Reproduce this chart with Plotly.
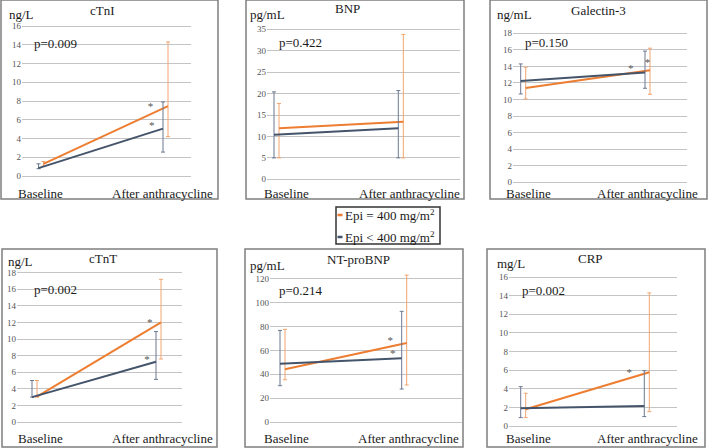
import plotly.graph_objects as go

# ---------------- data ----------------
panels = ["cTnI", "BNP", "Galectin-3", "cTnT", "NT-proBNP", "CRP"]
units = ["ng/L", "pg/mL", "ng/mL", "ng/L", "pg/mL", "mg/L"]
p_values = ["p=0.009", "p=0.422", "p=0.150", "p=0.002", "p=0.214", "p=0.002"]
timepoints = ["Baseline", "After anthracycline"]
series_names = ["Epi = 400 mg/m<sup>2</sup>", "Epi < 400 mg/m<sup>2</sup>"]

# Epi = 400 mg/m2 (orange): [Baseline, After anthracycline]
high_mean = [[1.3, 7.45], [11.9, 13.4], [11.4, 13.55], [3.05, 12.0], [44.1, 66.1], [1.82, 5.79]]
high_upper = [[1.55, 14.3], [17.7, 33.8], [13.9, 16.2], [5.0, 17.2], [77.6, 123.0], [3.54, 14.3]]
high_lower = [[1.05, 4.2], [5.0, 5.0], [10.07, 10.63], [3.0, 7.6], [35.4, 31.0], [0.93, 1.57]]
# Epi < 400 mg/m2 (blue)
low_mean = [[0.84, 5.05], [10.4, 11.9], [12.24, 13.25], [3.0, 7.27], [48.8, 53.3], [1.93, 2.18]]
low_upper = [[1.3, 7.9], [20.4, 20.7], [14.3, 15.85], [5.0, 10.9], [76.7, 92.7], [4.25, 5.96]]
low_lower = [[0.78, 2.55], [5.0, 5.0], [10.67, 11.36], [3.0, 5.14], [30.4, 27.6], [0.93, 1.04]]

y_max = [16, 35, 18, 18, 120, 16]
y_step = [2, 5, 2, 2, 20, 2]

# significance marks "*" (x in timepoint units, y in panel units)
sig_x = [[0.88, 0.89], [], [0.865, 1.0], [0.93, 0.907], [0.886, 0.905], [0.858]]
sig_y = [[7.29, 5.26], [], [13.65, 14.44], [11.86, 7.48], [67.2, 56.7], [5.71]]

# ---------------- layout geometry (pixels) ----------------
W, H = 709, 448
ORANGE = "#ED7D31"
ORANGE_ERR = "#F2A46E"
BLUE = "#44546A"
BLUE_ERR = "#6A7890"
FONT = '"Liberation Serif", "Times New Roman", "DejaVu Serif", serif'

geom = [
    dict(box=(1, 0, 218, 199), gl=22, gr=191, c0=41, c1=165.5, y0=176, yt=26,
         title=(102.5, 10), unit=(7, 14), p=(32, 43), xl=(40, 162, 193)),
    dict(box=(246, 0, 464, 199), gl=267, gr=460, c0=276.5, c1=400.8, y0=179.3, yt=29.3,
         title=(347, 9), unit=(248, 14), p=(277, 42), xl=(286.5, 409, 193)),
    dict(box=(490, 0, 707, 199), gl=513, gr=687, c0=523.2, c1=647.5, y0=182.3, yt=33.3,
         title=(598, 10), unit=(495, 14), p=(523, 42), xl=(528.5, 647, 193)),
    dict(box=(2, 249, 217, 447), gl=17, gr=182, c0=34.5, c1=158.5, y0=422, yt=272.7,
         title=(103, 258), unit=(6, 261), p=(32, 289), xl=(40, 162, 438)),
    dict(box=(245, 249, 463, 447), gl=270, gr=462, c0=282.5, c1=404.2, y0=422, yt=278.7,
         title=(358, 259), unit=(248, 265), p=(277, 290), xl=(286.5, 408.5, 438)),
    dict(box=(487, 249, 705, 447), gl=509, gr=677, c0=523.2, c1=646.8, y0=426.3, yt=277,
         title=(590, 258), unit=(495, 263), p=(520, 290), xl=(528.5, 647.5, 438)),
]


def fx(px):
    return px / W


def fy(py):
    return 1 - py / H


fig = go.Figure()
layout = dict(
    width=W, height=H, margin=dict(l=0, r=0, t=0, b=0, pad=0, autoexpand=False),
    paper_bgcolor="white", plot_bgcolor="white", showlegend=False,
    font=dict(family=FONT, size=13, color="#1a1a1a"),
)
annotations = []
shapes = []


def ann(text, x, y, xanchor, size=13, color="#1a1a1a"):
    annotations.append(dict(text=text, x=fx(x), y=fy(y), xref="paper", yref="paper",
                            xanchor=xanchor, yanchor="middle", showarrow=False,
                            font=dict(family=FONT, size=size, color=color)))


for i, g in enumerate(geom):
    k = i + 1
    xa = "x" if k == 1 else f"x{k}"
    ya = "y" if k == 1 else f"y{k}"
    span = g["c1"] - g["c0"]
    d = 2.5 / span
    xs = [0, 1]
    hm = high_mean[i]
    fig.add_trace(go.Scatter(
        x=[v + d for v in xs], y=hm, mode="lines", xaxis=xa, yaxis=ya,
        line=dict(color=ORANGE, width=2), cliponaxis=False,
        error_y=dict(type="data", symmetric=False,
                     array=[high_upper[i][j] - hm[j] for j in range(2)],
                     arrayminus=[hm[j] - high_lower[i][j] for j in range(2)],
                     color=ORANGE_ERR, thickness=1, width=2),
        name=series_names[0]))
    lm = low_mean[i]
    fig.add_trace(go.Scatter(
        x=[v - d for v in xs], y=lm, mode="lines", xaxis=xa, yaxis=ya,
        line=dict(color=BLUE, width=2), cliponaxis=False,
        error_y=dict(type="data", symmetric=False,
                     array=[low_upper[i][j] - lm[j] for j in range(2)],
                     arrayminus=[lm[j] - low_lower[i][j] for j in range(2)],
                     color=BLUE_ERR, thickness=1, width=2),
        name=series_names[1]))
    if sig_x[i]:
        fig.add_trace(go.Scatter(
            x=sig_x[i], y=sig_y[i], mode="text", text=["*"] * len(sig_x[i]),
            textposition="middle center",
            textfont=dict(family=FONT, size=11, color="#555555"),
            xaxis=xa, yaxis=ya, cliponaxis=False, hoverinfo="skip"))

    s = (g["y0"] - g["yt"]) / y_max[i]
    padB, padT = 3, 8
    layout[f"xaxis{k if k > 1 else ''}"] = dict(
        domain=[fx(g["gl"]), fx(g["gr"])], anchor=ya, automargin=False,
        range=[(g["gl"] - g["c0"]) / span, (g["gr"] - g["c0"]) / span],
        showgrid=False, zeroline=False, showline=False, showticklabels=False, ticks="",
    )
    layout[f"yaxis{k if k > 1 else ''}"] = dict(
        domain=[fy(g["y0"] + padB), fy(g["yt"] - padT)], anchor=xa, automargin=False,
        range=[-padB / s, y_max[i] + padT / s],
        showgrid=True, gridcolor="#c4c4c4", gridwidth=1, zeroline=False, showline=False,
        tickmode="array", tickvals=list(range(0, y_max[i] + 1, y_step[i])),
        tickfont=dict(family=FONT, size=9, color="#555555"), ticks="",
    )
    bx0, by0, bx1, by1 = g["box"]
    shapes.append(dict(type="rect", xref="paper", yref="paper",
                       x0=fx(bx0), x1=fx(bx1), y0=fy(by1), y1=fy(by0),
                       line=dict(color="#7f7f7f", width=1.5), layer="above"))
    ann(panels[i], g["title"][0], g["title"][1], "center")
    ann(units[i], g["unit"][0], g["unit"][1], "left")
    ann(p_values[i], g["p"][0], g["p"][1], "left")
    ann(timepoints[0], g["xl"][0], g["xl"][2], "center")
    ann(timepoints[1], g["xl"][1], g["xl"][2], "center")

# legend box
shapes.append(dict(type="rect", xref="paper", yref="paper",
                   x0=fx(336), x1=fx(440), y0=fy(244), y1=fy(207),
                   line=dict(color="#333333", width=1.5)))
for j, (col, yy) in enumerate([(ORANGE, 215), (BLUE, 237)]):
    shapes.append(dict(type="line", xref="paper", yref="paper",
                       x0=fx(337.5), x1=fx(342.5), y0=fy(yy), y1=fy(yy),
                       line=dict(color=col, width=2.5)))
    ann(series_names[j], 343, yy, "left")

layout["annotations"] = annotations
layout["shapes"] = shapes
fig.update_layout(**layout)
fig.write_html(
    "out.html",
    config={"displayModeBar": False},
    post_script="document.body.style.margin='0';document.body.style.overflow='hidden';",
)
